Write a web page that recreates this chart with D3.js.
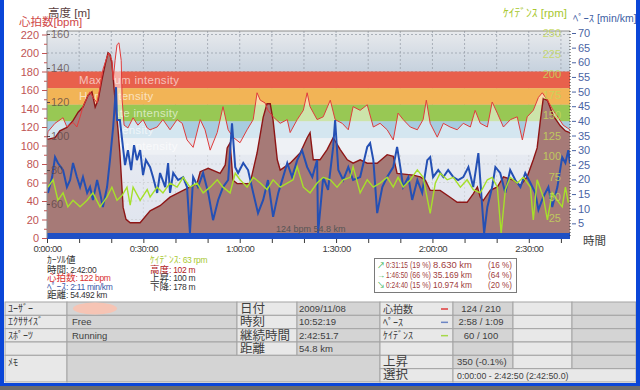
<!DOCTYPE html>
<html>
<head>
<meta charset="utf-8">
<script src="https://cdn.jsdelivr.net/npm/d3@7"></script>
<style>
  body { margin: 0; background: #fff; }
  svg { display: block; font-family: "Liberation Sans", "Noto Sans CJK JP", sans-serif; }
</style>
</head>
<body>
<svg id="chart" width="640" height="390"></svg>
<script>
// values: [minutes, value]
const altitude = [[0,98],[2.5,99],[4,103],[6.2,105],[8.1,109],[9.7,114],[11.2,117],[12.8,124],[14,126],[15,117],[15.9,121],[17.1,133],[18.1,142],[19,149],[19.6,148],[20.2,143],[21.2,121],[22.1,104],[22.7,90],[23.7,58],[24.6,51],[25.9,49],[29,49],[32.1,56],[35.2,59],[38.3,64],[42.4,68],[46.7,72],[47.7,79],[50.2,81],[53.9,78],[55.5,83],[56.1,93],[57,96],[57.9,74],[59.2,72],[63.2,72],[65.4,90],[67.3,111],[68.5,119],[69.5,119],[70.4,109],[71.7,86],[72.6,80],[75.7,84],[78.8,90],[81,99],[81.9,102],[82.9,86],[85,86],[87.2,92],[89.1,99],[91.3,92],[93.5,86],[95.3,84],[97.5,86],[99.7,84],[102.8,84],[105.9,89],[107.8,88],[109,78],[114,77],[116.2,76],[117.8,74],[119.3,68],[122.4,68],[125.5,64],[127.7,61],[130.8,61],[132.7,66],[134,70],[134.9,64],[135.8,62],[138,68],[140.2,70],[142.1,76],[145.2,74],[147.4,71],[149.5,76],[151.4,86],[152.6,93],[153.6,109],[154.5,122],[155.8,121],[157.6,112],[159.8,106],[161.4,103],[162.8,102]];

const heartRate = [[0,106],[0.3,115],[2.5,124],[5,130],[6.2,120],[8.1,125],[9.3,120],[10.3,131],[11.2,142],[12.5,152],[13.4,158],[14.3,152],[15.6,146],[16.5,163],[17.4,182],[18.7,196],[19.3,200],[20.2,192],[20.6,171],[21.2,192],[21.8,209],[22.4,211],[23.1,192],[23.4,149],[24,122],[25.2,119],[26.8,130],[28.3,122],[29.9,128],[31.2,119],[32.1,117],[34.3,120],[36.1,128],[38.3,117],[40.5,128],[42.1,124],[43.6,106],[45.5,98],[47.7,128],[49.2,117],[50.8,95],[53,114],[54.8,142],[56.4,117],[57.9,109],[60.1,103],[62.3,117],[64.2,128],[65.4,157],[66.4,149],[67.9,146],[68.8,138],[70.4,131],[72.6,124],[74.8,128],[75.7,114],[77.9,128],[79.8,138],[81,157],[81.9,142],[84.1,128],[86,131],[88.2,149],[89.7,128],[91.9,124],[93.8,117],[95.3,142],[97.5,138],[99.7,144],[101.6,120],[103.7,124],[105.9,117],[107.8,106],[109.3,135],[110.9,128],[113.1,120],[115.3,117],[117.1,128],[118.1,149],[119.3,124],[121.5,109],[123.4,124],[125.5,120],[127.7,117],[129.6,124],[131.8,120],[133.3,138],[134.9,124],[137.1,120],[138.6,147],[140.2,135],[142.1,120],[144.3,128],[146.4,131],[148,106],[149.5,131],[151.4,138],[153,152],[154.2,157],[155.8,149],[157.6,138],[159.2,130],[160.7,122],[162,119],[162.8,117]];

const pace = [[0.3,15.4],[1.6,20.8],[2.5,27.6],[3.4,25.6],[5,23.2],[6.2,17.4],[7.2,19.8],[8.1,25.6],[9.3,20.8],[10.3,17.4],[11.2,20.8],[12.5,15.4],[13.4,17.4],[14.3,13],[15.6,19.8],[16.5,15.4],[17.4,10.6],[18.7,17.4],[19.6,26.6],[20.6,37.9],[21.5,51.5],[21.8,40.3],[22.7,40.3],[23.4,33.4],[24.3,24.9],[25.2,30],[26.2,23.2],[27.1,31.7],[28,26.6],[29,30],[29.9,21.5],[30.8,26.6],[32.1,24.2],[33,20.8],[34.3,15.4],[35.2,22.2],[36.8,17.4],[37.7,25.6],[38.3,15.4],[39.3,22.2],[40.8,19.8],[42.4,20.8],[43.6,17.4],[44.5,1.7],[45.5,20.8],[47,17.4],[48.6,22.2],[50.2,15.4],[51.7,6.1],[53.3,13],[54.8,17.4],[56.4,19.8],[57.6,39.2],[58.6,24.2],[59.5,22.2],[61.1,25.6],[62.6,23.2],[64.2,15.4],[65.7,8.5],[67.3,13],[68.8,19.8],[70.4,7.2],[72,15.4],[73.5,20.8],[74.8,25.6],[76.3,20.8],[77.9,26.6],[79.4,30],[81,24.2],[82.6,20.8],[84.1,26.6],[84.4,1.7],[86,20.8],[87.5,16.4],[89.1,31.1],[89.7,40.3],[90.7,23.2],[92.2,19.8],[93.8,24.2],[95.3,19.8],[97.5,20.8],[99.7,31.1],[100.6,32.4],[101.6,26.6],[102.8,8.5],[104.4,17.4],[105.9,20.8],[107.8,24.2],[109,31.1],[110,24.2],[110.9,17.4],[112.5,20.8],[113.7,13],[115.3,19.8],[116.8,15.4],[118.4,26.6],[119.3,27.6],[120.2,20.8],[121.8,23.2],[123.4,20.8],[124.9,23.2],[126.5,20.8],[128,19.8],[129.6,20.8],[131.2,24.2],[132.7,17.4],[134.3,29],[135.5,10.6],[136.1,1.7],[137.1,10.6],[138.6,17.4],[139.6,24.2],[141.1,22.2],[142.7,15.4],[144.2,23.2],[145.8,19.8],[147.4,17.4],[148.9,22.2],[150.5,18.8],[152,15.4],[153,9.6],[154.5,14],[156.1,17.4],[157.3,10.6],[158.9,17.4],[160.4,27.6],[161.4,25.6],[162.3,30],[162.8,25.6]];

const cadence = [[0.3,62],[1.9,71],[3.4,46],[5,55],[6.5,38],[8.1,46],[10.3,38],[12.5,46],[14.3,55],[16.5,38],[18.7,50],[20.2,62],[21.8,46],[23.4,52],[24.9,62],[25.9,40],[26.8,62],[29,46],[31.2,59],[32.1,50],[34.3,62],[36.1,55],[38.3,67],[40.5,62],[42.4,74],[44.5,62],[46.7,67],[48.6,55],[50.8,62],[53,71],[54.8,62],[57,55],[58.6,79],[60.1,71],[62.3,62],[64.2,74],[66.4,67],[68.5,59],[70.4,71],[72.6,62],[74.8,67],[76.6,71],[77.9,87],[79.8,62],[81.9,55],[84.1,67],[86,74],[88.2,71],[90.3,62],[92.2,71],[94.4,74],[95.3,87],[97.5,55],[99.7,71],[101.6,62],[103.7,67],[105.9,74],[107.8,62],[109.3,74],[110.9,62],[113.1,71],[115.3,83],[117.1,74],[119.3,30],[120.9,67],[122.4,79],[124.6,71],[126.5,74],[128.7,62],[130.8,71],[132.7,59],[134.9,55],[137.1,71],[138.6,74],[140.2,62],[141.4,6],[142.7,59],[144.2,74],[146.4,67],[148.3,74],[150.5,62],[151.4,22],[152.6,71],[154.5,50],[155.8,22],[157.3,55],[158.9,46],[160.4,38],[161.4,62],[162.3,43]];

const zoneNames = ["Maximum intensity", "Hard intensity", "Moderate intensity", "Light intensity", "Very light intensity"];
const zoneLow = [162, 144, 126, 108, 90];
const zoneHigh = [180, 162, 144, 126, 108];
const zoneColors = ["#e8604c", "#f2b456", "#98c854", "#a8cce0", "#dde2ea"];

const hrTicks = d3.range(0, 221, 20);
const altTicks = [60, 80, 100, 120, 140, 160];
const cadTicks = [25, 50, 75, 100, 125, 150, 175, 200, 225, 250];
const paceTicks = d3.range(5, 71, 5);
const timeTicks = d3.range(0, 161, 10);
const timeLabels = [0, 30, 60, 90, 120, 150];

const cursorLeft = [["ｶｰｿﾙ値", ""], ["時間", ": 2:42:00"], ["心拍数", ": 122 bpm"], ["ﾍﾟｰｽ", ": 2:11 min/km"], ["距離", ": 54.492 km"]];
const cursorRight = [["ｹｲﾃﾞﾝｽ", ": 63 rpm"], ["高度", ": 102 m"], ["上昇", ": 100 m"], ["下降", ": 178 m"]];
const legendRows = [["↗", "0:31:15", "(19 %)", "8.630 km", "(16 %)"], ["→", "1:46:50", "(66 %)", "35.169 km", "(64 %)"], ["↘", "0:24:40", "(15 %)", "10.974 km", "(20 %)"]];

const infoLeft = [["ﾕｰｻﾞｰ", ""], ["ｴｸｻｻｲｽﾞ", "Free"], ["ｽﾎﾟｰﾂ", "Running"], ["", ""]];
const infoMid = [["日付", "2009/11/08"], ["時刻", "10:52:19"], ["継続時間", "2:42:51.7"], ["距離", "54.8 km"]];
const infoRight = [["心拍数", "124 / 210"], ["ﾍﾟｰｽ", "2:58 / 1:09"], ["ｹｲﾃﾞﾝｽ", "60 / 100"], ["", ""], ["上昇", "350 (-0.1%)"], ["選択", "0:00:00 - 2:42:50 (2:42:50.0)"]];

const svg = d3.select("#chart");
const L = 47, R = 570, T = 31, B = 238;

const x = d3.scaleLinear().domain([0, 162.83]).range([L, R]);
const yHR = d3.scaleLinear().domain([0, 220]).range([B, 34.5]);
const yAlt = d3.scaleLinear().domain([40, 160]).range([B, 34]);
const yPace = d3.scaleLinear().domain([0, 70]).range([B, 33]);
const yCad = d3.scaleLinear().domain([0, 250]).range([B, 33]);

const defs = svg.append("defs");
const grad = defs.append("linearGradient").attr("id", "bg").attr("x1", 0).attr("y1", 0).attr("x2", 0).attr("y2", 1);
grad.append("stop").attr("offset", "0%").attr("stop-color", "#e8eaed");
grad.append("stop").attr("offset", "19%").attr("stop-color", "#c7d2de");
grad.append("stop").attr("offset", "60%").attr("stop-color", "#ccd4e3");
grad.append("stop").attr("offset", "100%").attr("stop-color", "#c0c9de");
defs.append("clipPath").attr("id", "plot").append("rect").attr("x", L).attr("y", T).attr("width", R - L).attr("height", B - T);

svg.append("rect").attr("x", L).attr("y", T).attr("width", R - L).attr("height", B - T).attr("fill", "url(#bg)");

const g = svg.append("g").attr("clip-path", "url(#plot)");

// dashed grid
g.selectAll(".hgrid").data(hrTicks).join("line")
  .attr("x1", L).attr("x2", R).attr("y1", d => yHR(d)).attr("y2", d => yHR(d))
  .attr("stroke", "#9aa2ac").attr("stroke-dasharray", "2,2").attr("stroke-width", 0.8);
g.selectAll(".vgrid").data(timeTicks.slice(1)).join("line")
  .attr("x1", d => x(d)).attr("x2", d => x(d)).attr("y1", T).attr("y2", B)
  .attr("stroke", "#9aa2ac").attr("stroke-dasharray", "2,2").attr("stroke-width", 0.8);

// intensity bands
g.selectAll(".zone").data(zoneNames).join("rect")
  .attr("x", L).attr("width", R - L)
  .attr("y", (d, i) => yHR(zoneHigh[i]))
  .attr("height", (d, i) => yHR(zoneLow[i]) - yHR(zoneHigh[i]))
  .attr("fill", (d, i) => zoneColors[i]);
g.selectAll(".zoneText").data(zoneNames).join("text")
  .attr("x", 79).attr("y", (d, i) => (yHR(zoneHigh[i]) + yHR(zoneLow[i])) / 2 + 4)
  .attr("font-size", 11.5).attr("letter-spacing", 0.3).attr("fill", "#fff").attr("fill-opacity", 0.62)
  .text(d => d);

// heart rate area (washes the bands out)
g.append("path").datum(heartRate)
  .attr("d", d3.area().x(d => x(d[0])).y0(B).y1(d => yHR(d[1])))
  .attr("fill", "#fff").attr("fill-opacity", 0.5);

// altitude
g.append("path").datum(altitude)
  .attr("d", d3.area().x(d => x(d[0])).y0(B).y1(d => yAlt(d[1])))
  .attr("fill", "#a67a77");
g.append("path").datum(altitude)
  .attr("d", d3.line().x(d => x(d[0])).y(d => yAlt(d[1])))
  .attr("fill", "none").attr("stroke", "#8e1616").attr("stroke-width", 1.4);

// heart rate line
g.append("path").datum(heartRate)
  .attr("d", d3.line().x(d => x(d[0])).y(d => yHR(d[1])))
  .attr("fill", "none").attr("stroke", "#e03c3c").attr("stroke-width", 1);

// pace & cadence
g.append("path").datum(pace)
  .attr("d", d3.line().x(d => x(d[0])).y(d => yPace(d[1])))
  .attr("fill", "none").attr("stroke", "#2450b4").attr("stroke-width", 2);
g.append("path").datum(cadence)
  .attr("d", d3.line().x(d => x(d[0])).y(d => yCad(d[1])))
  .attr("fill", "none").attr("stroke", "#a6e02a").attr("stroke-width", 1.4);

// bottom bar
svg.append("rect").attr("x", L).attr("y", 233).attr("width", R - L).attr("height", 6).attr("fill", "#1f50c4");
svg.append("text").attr("x", 276).attr("y", 232).attr("font-size", 9).attr("fill", "#555").text("124 bpm 54.8 km");

// frame of plot
svg.append("line").attr("x1", L).attr("x2", R).attr("y1", T).attr("y2", T).attr("stroke", "#8a8a8a");
svg.append("line").attr("x1", L).attr("x2", L).attr("y1", T).attr("y2", B).attr("stroke", "#8a8a8a");
svg.append("line").attr("x1", R).attr("x2", R).attr("y1", T).attr("y2", B)
  .attr("stroke", "#333").attr("stroke-dasharray", "1,2");

// axes
function styleAxis(sel, color, size) {
  sel.select(".domain").remove();
  sel.selectAll("line").attr("stroke", color);
  sel.selectAll("text").attr("fill", color).attr("font-size", size).attr("font-family", "Liberation Sans, sans-serif");
}

const hrAxis = svg.append("g").attr("transform", `translate(${L},0)`)
  .call(d3.axisLeft(yHR).tickValues(hrTicks).tickSize(5).tickPadding(3));
styleAxis(hrAxis, "#c05454", 11);
svg.append("g").attr("transform", `translate(${L},0)`)
  .call(d3.axisLeft(yHR).tickValues(d3.range(10, 220, 20)).tickSize(3).tickFormat(""))
  .call(s => styleAxis(s, "#c05454", 11));

const altAxis = svg.append("g").attr("transform", `translate(${L},0)`)
  .call(d3.axisRight(yAlt).tickValues(altTicks).tickSize(3).tickPadding(1));
styleAxis(altAxis, "#5a4444", 11);
altAxis.selectAll("text").attr("fill-opacity", 0.75);

const cadAxis = svg.append("g").attr("transform", `translate(${R - 9},0)`)
  .call(d3.axisLeft(yCad).tickValues(cadTicks).tickSize(0).tickPadding(0));
styleAxis(cadAxis, "#c4d85a", 11);
cadAxis.selectAll("text").attr("fill-opacity", 0.85);

const paceAxis = svg.append("g").attr("transform", `translate(${R + 2},0)`)
  .call(d3.axisRight(yPace).tickValues(paceTicks).tickSize(4).tickPadding(2));
styleAxis(paceAxis, "#4a64a4", 11);

const fmtTime = m => `${Math.floor(m / 60)}:${String(m % 60).padStart(2, "0")}:00`;
const timeAxis = svg.append("g").attr("transform", `translate(0,${B + 1})`)
  .call(d3.axisBottom(x).tickValues(timeTicks).tickSize(4).tickPadding(2)
    .tickFormat(d => timeLabels.includes(d) ? fmtTime(d) : ""));
styleAxis(timeAxis, "#3c3c3c", 9.5);
timeAxis.selectAll("text").attr("letter-spacing", -0.5);

// axis titles
const titles = [
  { x: 48, y: 17, t: "高度 [m]", c: "#5a4040", a: "start", s: 11.5 },
  { x: 19, y: 26, t: "心拍数[bpm]", c: "#d04848", a: "start", s: 11.5 },
  { x: 567, y: 17, t: "ｹｲﾃﾞﾝｽ [rpm]", c: "#a8c830", a: "end", s: 11.5 },
  { x: 573, y: 22, t: "ﾍﾟｰｽ [min/km]", c: "#4060a4", a: "start", s: 10.5 },
  { x: 583, y: 245, t: "時間", c: "#404040", a: "start", s: 11.5 }
];
svg.selectAll(".title").data(titles).join("text")
  .attr("x", d => d.x).attr("y", d => d.y).attr("font-size", d => d.s)
  .attr("text-anchor", d => d.a).attr("fill", d => d.c).text(d => d.t);

// cursor values
function cursorBlock(rows, x0, baselines, colors) {
  const t = svg.selectAll(null).data(rows).join("text")
    .attr("x", x0).attr("y", (d, i) => baselines[i]).attr("fill", (d, i) => colors[i]);
  t.append("tspan").attr("font-size", 9.5).text(d => d[0]);
  t.append("tspan").attr("font-size", 8.5).attr("letter-spacing", -0.3).text(d => d[1]);
}
cursorBlock(cursorLeft, 47, [263, 272.5, 281, 289.5, 298], ["#333", "#333", "#d83030", "#3858a8", "#333"]);
cursorBlock(cursorRight, 150, [263, 272.5, 281, 289.5], ["#a8c830", "#b02020", "#333", "#333"]);

// up / flat / down legend
svg.append("rect").attr("x", 374.5).attr("y", 258.5).attr("width", 142).attr("height", 34)
  .attr("fill", "#fff").attr("stroke", "#7a7a7a");
const lg = svg.selectAll(".lg").data(legendRows).join("g")
  .attr("transform", (d, i) => `translate(0,${268 + i * 10})`);
const lgCols = [{ x: 386, w: 22 }, { x: 410, w: 21 }, { x: 433, w: 39 }, { x: 488, w: 24 }];
lg.append("text").attr("x", 377).attr("font-size", 8).attr("fill", "#30b050").text(d => d[0]);
lgCols.forEach((c, k) => {
  lg.append("text").attr("x", c.x).attr("font-size", 9).attr("fill", "#a04040")
    .attr("textLength", c.w).attr("lengthAdjust", "spacingAndGlyphs").text(d => d[k + 1]);
});

// info table
const cols = [5, 67, 237, 297, 380, 453, 513, 572, 636];
const rowH = 13.33, tableTop = 302;
const light = "#e8e8e8", dark = "#d4d4d4", line = "#a4a4a4";
function cell(x0, y0, w, h, fill) {
  svg.append("rect").attr("x", x0).attr("y", y0).attr("width", w).attr("height", h)
    .attr("fill", fill).attr("stroke", line).attr("stroke-width", 1);
}
function label(xx, yy, t, size, anchor) {
  return svg.append("text").attr("x", xx).attr("y", yy).attr("font-size", size)
    .attr("text-anchor", anchor || "start").attr("fill", "#404040").text(t);
}
infoLeft.forEach((r, i) => {
  const y0 = tableTop + i * rowH;
  cell(cols[0], y0, cols[1] - cols[0], rowH, light);
  cell(cols[1], y0, cols[2] - cols[1], rowH, dark);
  label(8, y0 + 10, r[0], 10);
  label(72, y0 + 10, r[1], 9.5);
});
infoMid.forEach((r, i) => {
  const y0 = tableTop + i * rowH;
  cell(cols[2], y0, cols[3] - cols[2], rowH, light);
  cell(cols[3], y0, cols[4] - cols[3], rowH, dark);
  label(240, y0 + 11, r[0], 12.5);
  label(299, y0 + 10, r[1], 9.5);
});
cell(cols[0], tableTop + 4 * rowH, cols[1] - cols[0], 2 * rowH, light);
cell(cols[1], tableTop + 4 * rowH, cols[4] - cols[1], 2 * rowH, dark);
label(8, tableTop + 4 * rowH + 11, "ﾒﾓ", 10);
svg.append("ellipse").attr("cx", 95).attr("cy", tableTop + 6.5).attr("rx", 22).attr("ry", 6).attr("fill", "#f6c4b4");

const dashColors = ["#e03c3c", "#6d86c4", "#a6d84a"];
infoRight.forEach((r, i) => {
  const y0 = tableTop + i * rowH;
  cell(cols[4], y0, cols[5] - cols[4], rowH, light);
  if (i < 5) {
    cell(cols[5], y0, cols[6] - cols[5], rowH, dark);
    cell(cols[6], y0, cols[7] - cols[6], rowH, light);
    cell(cols[7], y0, cols[8] - cols[7], rowH, dark);
  } else {
    cell(cols[5], y0, cols[8] - cols[5], rowH, light);
  }
  label(383, y0 + 10.5, r[0], i < 3 ? 10 : 12.5);
  if (i < 3) {
    svg.append("line").attr("x1", 441).attr("x2", 448).attr("y1", y0 + 7).attr("y2", y0 + 7)
      .attr("stroke", dashColors[i]).attr("stroke-width", 1.5);
    label(481, y0 + 10, r[1], 9.5, "middle");
  } else {
    label(457, y0 + 10, r[1], i === 5 ? 8.8 : 9.5);
  }
});

// window frame (drawn last, over everything)
svg.append("rect").attr("x", 0).attr("y", 0).attr("width", 4).attr("height", 390).attr("fill", "#0a46d8");
svg.append("rect").attr("x", 636).attr("y", 0).attr("width", 4).attr("height", 390).attr("fill", "#0a46d8");
svg.append("rect").attr("x", 0).attr("y", 383).attr("width", 640).attr("height", 3).attr("fill", "#0a46d8");
svg.append("rect").attr("x", 0).attr("y", 386).attr("width", 640).attr("height", 4).attr("fill", "#6c6c6c");
</script>
</body>
</html>
